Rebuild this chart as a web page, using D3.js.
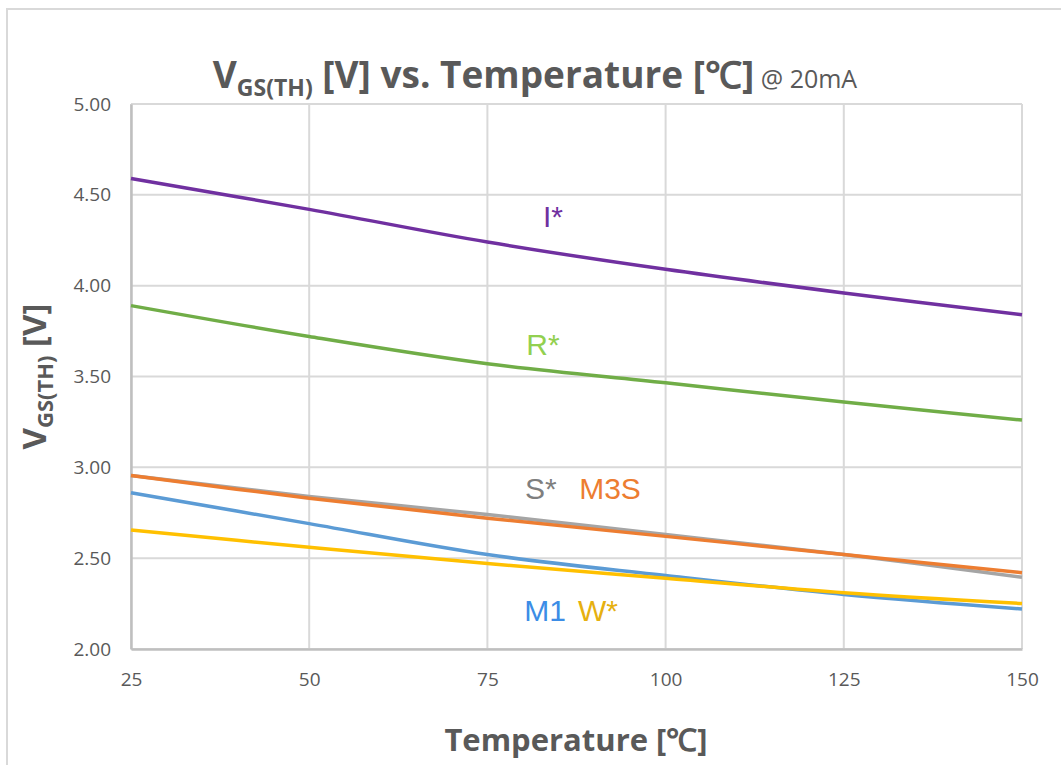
<!DOCTYPE html>
<html>
<head>
<meta charset="utf-8">
<script src="https://cdn.jsdelivr.net/npm/d3@7"></script>
<style>
  body { margin: 0; background: #fff; }
  svg text { font-family: "Liberation Sans Narrow", "Open Sans", sans-serif; }
</style>
</head>
<body>
<div id="chart"></div>
<script>
// Temperature points and threshold voltage per device
var temps = [25, 50, 75, 100, 125, 150];
var xTicks = [25, 50, 75, 100, 125, 150];
var yTicks = [2.0, 2.5, 3.0, 3.5, 4.0, 4.5, 5.0];

var vI   = [4.59, 4.42, 4.24, 4.09, 3.96, 3.84];
var vR   = [3.89, 3.72, 3.57, 3.465, 3.36, 3.26];
var vS   = [2.955, 2.84, 2.74, 2.63, 2.52, 2.395];
var vM3S = [2.955, 2.83, 2.72, 2.62, 2.52, 2.42];
var vM1  = [2.86, 2.69, 2.52, 2.405, 2.30, 2.22];
var vW   = [2.655, 2.56, 2.47, 2.39, 2.31, 2.25];

var seriesNames = ['I*', 'R*', 'S*', 'M3S', 'M1', 'W*'];
var seriesValues = [vI, vR, vS, vM3S, vM1, vW];
var lineColors = ['#7030A0', '#70AD47', '#A5A5A5', '#ED7D31', '#5B9BD5', '#FFC000'];
var labelColors = ['#7030A0', '#92D050', '#7F7F7F', '#ED7D31', '#3C8DE6', '#E6B010'];
// label anchor in data units (temperature, voltage) - baseline of the text
var labelPos = [[84.2, 4.323], [82.8, 3.618], [82.5, 2.826], [92.2, 2.826], [83.1, 2.154], [90.5, 2.154]];

var W = 1061, H = 765;
var margin = { top: 104, right: 39, bottom: 116, left: 131 },
    width = W - margin.left - margin.right,
    height = H - margin.top - margin.bottom;

var svg = d3.select('#chart').append('svg')
  .attr('width', W).attr('height', H);

// outer chart frame
svg.append('rect')
  .attr('x', 7).attr('y', 9).attr('width', W + 20).attr('height', H + 20)
  .attr('fill', 'none').attr('stroke', '#d9d9d9').attr('stroke-width', 2);

var g = svg.append('g')
  .attr('transform', 'translate(' + margin.left + ',' + margin.top + ')');

var x = d3.scaleLinear().domain([25, 150]).range([0, width]);
var y = d3.scaleLinear().domain([2, 5]).range([height, 0]);

// gridlines
g.append('g').selectAll('line').data(yTicks).enter().append('line')
  .attr('x1', 0).attr('x2', width)
  .attr('y1', function(d) { return y(d); }).attr('y2', function(d) { return y(d); })
  .attr('stroke', '#d9d9d9').attr('stroke-width', 2);
g.append('g').selectAll('line').data(xTicks).enter().append('line')
  .attr('y1', 0).attr('y2', height)
  .attr('x1', function(d) { return x(d); }).attr('x2', function(d) { return x(d); })
  .attr('stroke', '#d9d9d9').attr('stroke-width', 2);

// axes
var xAxis = g.append('g')
  .attr('transform', 'translate(0,' + height + ')')
  .call(d3.axisBottom(x).tickValues(xTicks).tickSize(0).tickPadding(24));
var yAxis = g.append('g')
  .call(d3.axisLeft(y).tickValues(yTicks).tickSize(0).tickPadding(20).tickFormat(d3.format('.2f')));
[xAxis, yAxis].forEach(function(a) {
  a.select('.domain').attr('stroke', '#bfbfbf').attr('stroke-width', 2.5);
  a.selectAll('text').attr('fill', '#595959').style('font-size', '19px');
});

// lines
var line = d3.line()
  .x(function(d, i) { return x(temps[i]); })
  .y(function(d) { return y(d); })
  .curve(d3.curveCatmullRom.alpha(0.5));

g.selectAll('.series').data(seriesValues).enter().append('path')
  .attr('class', 'series')
  .attr('d', line)
  .attr('fill', 'none')
  .attr('stroke', function(d, i) { return lineColors[i]; })
  .attr('stroke-width', 3.5);

// inline series labels
g.selectAll('.lbl').data(seriesNames).enter().append('text')
  .attr('class', 'lbl')
  .attr('x', function(d, i) { return x(labelPos[i][0]); })
  .attr('y', function(d, i) { return y(labelPos[i][1]); })
  .attr('fill', function(d, i) { return labelColors[i]; })
  .attr('text-anchor', 'middle')
  .style('font-family', '"Liberation Sans", Arial, sans-serif')
  .style('font-size', '30px')
  .text(function(d) { return d; });

// title
var title = svg.append('text')
  .attr('x', 535).attr('y', 88)
  .attr('text-anchor', 'middle')
  .attr('fill', '#595959')
  .style('font-weight', 'bold').style('font-size', '37px');
title.append('tspan').text('V');
title.append('tspan').attr('dy', 8).style('font-size', '23px').text('GS(TH)');
title.append('tspan').attr('dy', -8).text(' [V] vs. Temperature [℃]');
title.append('tspan').style('font-weight', 'normal').style('font-size', '25px').text(' @ 20mA');

// y axis title
var yTitle = svg.append('text')
  .attr('transform', 'translate(46,' + (margin.top + y(3.5)) + ') rotate(-90)')
  .attr('text-anchor', 'middle')
  .attr('fill', '#595959')
  .style('font-weight', 'bold').style('font-size', '33px');
yTitle.append('tspan').text('V');
yTitle.append('tspan').attr('dy', 7).style('font-size', '22px').text('GS(TH)');
yTitle.append('tspan').attr('dy', -7).text(' [V]');

// x axis title
svg.append('text')
  .attr('x', 576).attr('y', 751)
  .attr('text-anchor', 'middle')
  .attr('fill', '#595959')
  .style('font-weight', 'bold').style('font-size', '31px')
  .text('Temperature [℃]');
</script>
</body>
</html>
